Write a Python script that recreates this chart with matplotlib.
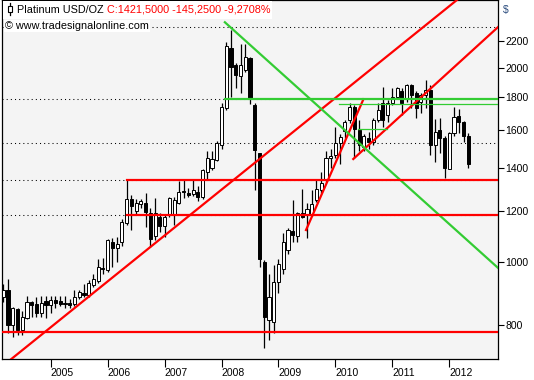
import matplotlib.pyplot as plt
from matplotlib.patches import Rectangle
from matplotlib.lines import Line2D
from matplotlib.ticker import NullLocator

plt.rcParams['font.family'] = ['Liberation Sans', 'DejaVu Sans']

# monthly candles, Mar 2004 .. May 2012 (index 0..98)
opens = [885, 906, 800, 846, 786, 821, 868, 863, 834, 870,
         860, 875, 870, 866, 866, 863, 883, 897, 890, 922,
         935, 980, 973, 1075, 1051, 1075, 1152, 1252, 1200, 1231,
         1236, 1191, 1100, 1177, 1137, 1184, 1190, 1236, 1290, 1281,
         1276, 1286, 1263, 1380, 1400, 1440, 1520, 1734, 2143, 2022,
         1945, 1984, 2070, 1750, 1474, 1000, 814, 809, 933, 976,
         1045, 1120, 1100, 1194, 1184, 1184, 1249, 1294, 1341, 1451,
         1465, 1530, 1594, 1661, 1741, 1602, 1510, 1560, 1535, 1661,
         1762, 1690, 1762, 1805, 1840, 1789, 1880, 1830, 1769, 1815,
         1848, 1519, 1605, 1556, 1395, 1583, 1683, 1646, 1566.75]
highs = [925, 944, 852, 850, 840, 886, 873, 885, 886, 886,
         886, 888, 887, 888, 877, 906, 906, 925, 939, 958,
         1011, 1016, 1085, 1089, 1093, 1166, 1341, 1272, 1252, 1255,
         1281, 1215, 1257, 1191, 1185, 1262, 1262, 1337, 1341, 1302,
         1341, 1311, 1395, 1487, 1485, 1542, 1762, 2190, 2290, 2035,
         2180, 2179, 2080, 1762, 1474, 1008, 960, 990, 1013, 1111,
         1130, 1249, 1197, 1297, 1235, 1294, 1341, 1382, 1485, 1495,
         1620, 1580, 1660, 1762, 1750, 1661, 1580, 1590, 1670, 1762,
         1870, 1780, 1860, 1870, 1860, 1890, 1890, 1840, 1830, 1918,
         1880, 1668, 1673, 1570, 1590, 1738, 1726, 1655, 1586]
lows = [868, 777, 767, 772, 772, 818, 824, 824, 824, 819,
        834, 850, 855, 850, 850, 855, 877, 885, 885, 917,
        930, 960, 965, 984, 1002, 1060, 1144, 1122, 1184, 1215,
        1133, 1056, 1083, 1114, 1093, 1177, 1144, 1230, 1257, 1260,
        1265, 1245, 1255, 1344, 1390, 1435, 1500, 1721, 1804, 1860,
        1829, 1969, 1757, 1294, 984, 738, 758, 778, 898, 960,
        1030, 1075, 1075, 1170, 1089, 1180, 1240, 1280, 1330, 1400,
        1450, 1420, 1560, 1640, 1448, 1487, 1487, 1500, 1520, 1650,
        1620, 1650, 1750, 1790, 1690, 1770, 1730, 1673, 1700, 1730,
        1466, 1432, 1474, 1350, 1395, 1570, 1585, 1536, 1398]
closes = [906, 800, 850, 786, 822, 868, 858, 834, 865, 860,
          875, 866, 863, 863, 858, 885, 899, 891, 930, 942,
          985, 975, 1083, 1053, 1066, 1156, 1252, 1222, 1236, 1245,
          1197, 1086, 1191, 1137, 1177, 1257, 1249, 1286, 1284, 1272,
          1294, 1263, 1390, 1448, 1445, 1530, 1738, 2163, 2005, 1950,
          2022, 2081, 1789, 1492, 1013, 824, 885, 933, 995, 1075,
          1124, 1104, 1194, 1177, 1208, 1232, 1297, 1328, 1451, 1460,
          1530, 1565, 1646, 1741, 1610, 1519, 1571, 1535, 1662, 1721,
          1661, 1762, 1800, 1860, 1762, 1880, 1815, 1732, 1815, 1848,
          1519, 1593, 1556, 1398, 1583, 1679, 1646, 1571, 1421.5]

year_labels = ['2005', '2006', '2007', '2008', '2009', '2010', '2011', '2012']
year_pos = [10, 22, 34, 46, 58, 70, 82, 94]
price_ticks = [800, 1000, 1200, 1400, 1600, 1800, 2000, 2200]

# drawn analysis objects: (index, price) end points
red_trends = [((1.41, 706), (95.6, 2546)),
              ((73.76, 1445), (104.3, 2313)),
              ((63.8, 1122), (75.9, 1788))]
green_trends = [((46.7, 2352), (104.3, 980))]
red_levels = [(0, 781), (26, 1341), (26, 1184)]          # start index, price
green_thick = [(46.7, 104.3, 1789)]
green_thin = [(70.7, 104.3, 1758), (74.75, 80.9, 1608)]
dotted_levels = [2310, 1789, 1528, 1341, 1184]

W, H = 534, 380
fig = plt.figure(figsize=(W / 100, H / 100), dpi=100)
fig.patch.set_facecolor('white')
ax = fig.add_axes([2 / W, 21 / H, 496 / W, 359 / H])
ax.set_facecolor('#f4f4f4')
ax.set_yscale('log')
x_max = 104.26
ax.set_xlim(-0.27, x_max)
ax.set_ylim(708.8, 2546)

for p in dotted_levels:
    ax.plot([-0.27, x_max], [p, p], color='black', lw=0.75,
            linestyle=(0, (1, 3)), zorder=1)

# candles
idx = list(range(len(opens)))
ax.vlines(idx, lows, highs, color='black', lw=0.9, zorder=2)
bottoms = [min(o, c) for o, c in zip(opens, closes)]
heights = [max(abs(c - o), 1.0) for o, c in zip(opens, closes)]
faces = ['white' if c >= o else 'black' for o, c in zip(opens, closes)]
ax.bar(idx, heights, bottom=bottoms, width=0.66, color=faces,
       edgecolor='black', linewidth=0.7, zorder=3)

for (x0, p0), (x1, p1) in red_trends:
    ax.plot([x0, x1], [p0, p1], color='#ff0000', lw=1.6, zorder=4)
for (x0, p0), (x1, p1) in green_trends:
    ax.plot([x0, x1], [p0, p1], color='#33cc33', lw=1.6, zorder=4)
for x0, p in red_levels:
    ax.plot([x0, x_max], [p, p], color='#ff0000', lw=1.6, zorder=4)
for x0, x1, p in green_thick:
    ax.plot([x0, x1], [p, p], color='#33cc33', lw=1.6, zorder=4)
for x0, x1, p in green_thin:
    ax.plot([x0, x1], [p, p], color='#33cc33', lw=0.9, zorder=4)

# axes styling
ax.yaxis.tick_right()
ax.yaxis.set_minor_locator(NullLocator())
ax.set_yticks(price_ticks)
ax.set_yticklabels([str(v) for v in price_ticks])
ax.set_xticks(year_pos)
ax.set_xticklabels(year_labels)
for lbl in ax.get_xticklabels():
    lbl.set_horizontalalignment('left')
ax.tick_params(axis='y', length=4, width=0.8, pad=1.5, labelsize=7.5)
ax.tick_params(axis='x', length=6, width=0.8, pad=0.5, labelsize=7.5)
for s in ax.spines.values():
    s.set_linewidth(0.9)
    s.set_color('black')

# header
def fx(x):
    return x / W

def fy(y):
    return 1 - y / H

fig.add_artist(Rectangle((fx(3), fy(19)), fx(272) - fx(3), fy(1) - fy(19),
                         transform=fig.transFigure, facecolor='white',
                         edgecolor='none', zorder=5))
fig.add_artist(Line2D([fx(10.3), fx(10.3)], [fy(3), fy(15)],
                      transform=fig.transFigure, color='black', lw=0.9, zorder=6))
fig.add_artist(Rectangle((fx(8.3), fy(11.7)), fx(12.3) - fx(8.3), fy(6) - fy(11.7),
                         transform=fig.transFigure, facecolor='white',
                         edgecolor='black', lw=0.8, zorder=7))
t1 = fig.text(fx(17), fy(10), 'Platinum USD/OZ ', fontsize=7.8,
              color='black', va='center', ha='left', zorder=8)
fig.canvas.draw()
bb = t1.get_window_extent(fig.canvas.get_renderer())
fig.text(bb.x1 / fig.bbox.width, fy(10), 'C:1421,5000 -145,2500 -9,2708%',
         fontsize=7.8, color='#ff0000', va='center', ha='left', zorder=8)
fig.text(fx(5), fy(26), '\u00a9 www.tradesignalonline.com', fontsize=7.8,
         color='black', va='center', ha='left', zorder=8,
         bbox=dict(facecolor='white', edgecolor='none', pad=0.5))
fig.text(fx(503), fy(10), '$', fontsize=7.5, color='#2b4c7e',
         va='center', ha='left')

fig.savefig('out.png', dpi=100)
